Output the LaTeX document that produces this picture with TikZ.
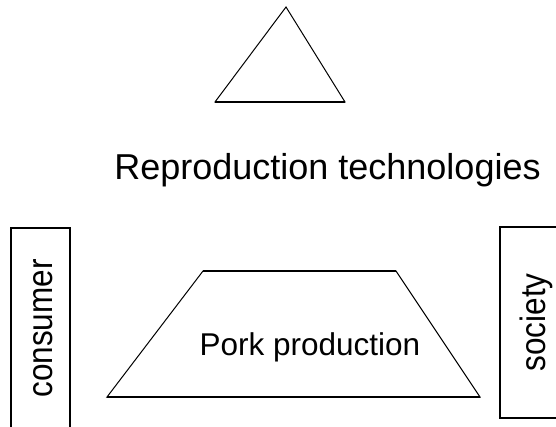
\documentclass[tikz,border=0pt]{standalone}
\usepackage{fontspec}
\setmainfont{Liberation Sans}
\usetikzlibrary{positioning,calc}

\begin{document}
\begin{tikzpicture}[x=1pt, y=-1pt, every node/.style={inner sep=0pt}]
\tikzset{sidelabel/.style={rotate=90, yscale=1.12, anchor=base, font=\fontsize{31.5}{38}\selectfont}}
\clip (0,0) rectangle (556,427);
\fill[white] (0,0) rectangle (556,427);
% triangle at the top
\draw[line width=1pt] (286,7) -- (345,102) -- (215,102) -- cycle;
\draw[line width=2pt] (215,102) -- (345,102);
\node[anchor=base] (repro) at (327.5,180) {\fontsize{36}{43}\selectfont Reproduction technologies};
% trapezoid
\draw[line width=1pt] (203,271) -- (396,271) -- (480,397) -- (107,397) -- cycle;
\draw[line width=1.8pt] (203,271) -- (396,271);  \draw[line width=2pt] (107,397) -- (480,397);
\node[anchor=base] (pork) at (310,355) {\fontsize{31.5}{38}\selectfont Pork production};
% side boxes
\draw[line width=1.3pt] (11,440) -- (11,228) -- (70,228) -- (70,440);
\node[sidelabel] (consumer) at (52,328.5) {consumer};
\draw[line width=1.3pt] (500,418) rectangle (570,227);
\node[sidelabel] (society) at (545,322.5) {society};
\end{tikzpicture}
\end{document}
